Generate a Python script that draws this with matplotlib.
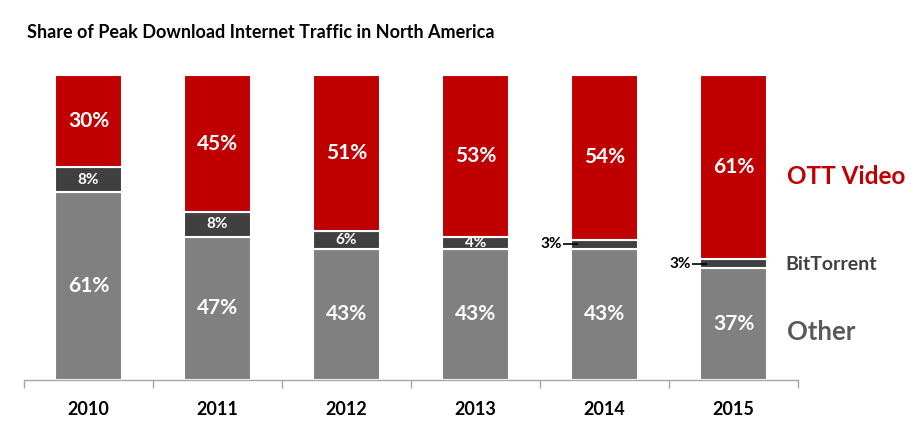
import matplotlib
matplotlib.use("Agg")
import matplotlib.pyplot as plt
import numpy as np

years = ["2010", "2011", "2012", "2013", "2014", "2015"]
other = [61, 47, 43, 43, 43, 37]
bittorrent = [8, 8, 6, 4, 3, 3]
ott_video = [30, 45, 51, 53, 54, 61]

RED = "#C00000"
DARK = "#404040"
GRAY = "#808080"

plt.rcParams['font.family'] = ['Lato', 'DejaVu Sans']

fig = plt.figure(figsize=(9.22, 4.28), dpi=100)
ax = fig.add_axes([0.026, 0.112, 0.8395, 0.713])

o = np.array(other, float)
b = np.array(bittorrent, float)
v = np.array(ott_video, float)
tot = o + b + v
o_n, b_n, v_n = o / tot * 100, b / tot * 100, v / tot * 100
x = np.arange(len(years))
w = 0.52

ax.bar(x, o_n, w, color=GRAY, edgecolor="white", linewidth=1.5)
ax.bar(x, b_n, w, bottom=o_n, color=DARK, edgecolor="white", linewidth=1.5)
ax.bar(x, v_n, w, bottom=o_n + b_n, color=RED, edgecolor="white", linewidth=1.5)

for i in range(len(years)):
    ax.text(x[i], o_n[i] / 2, f"{other[i]}%", ha="center", va="center",
            color="white", fontsize=15, fontweight="bold")
    ax.text(x[i], o_n[i] + b_n[i] + v_n[i] / 2, f"{ott_video[i]}%", ha="center",
            va="center", color="white", fontsize=15, fontweight="bold")
    ymid = o_n[i] + b_n[i] / 2
    if bittorrent[i] >= 4:
        ax.text(x[i], ymid, f"{bittorrent[i]}%", ha="center", va="center",
                color="white", fontsize=11, fontweight="bold")
    else:
        x0 = x[i] - w / 2
        ax.plot([x0 - 0.065, x0 + 0.055], [ymid, ymid], color="black", lw=1.2,
                solid_capstyle="butt", zorder=5)
        ax.text(x0 - 0.07, ymid, f"{bittorrent[i]}%", ha="right", va="center",
                color="black", fontsize=11, fontweight="bold")

ax.set_xlim(-0.5, len(years) - 0.5)
ax.set_ylim(0, 100)
ax.set_yticks([])
for s in ["top", "right", "left"]:
    ax.spines[s].set_visible(False)
ax.spines["bottom"].set_color("#A6A6A6")
ax.spines["bottom"].set_linewidth(1.0)
ax.set_xticks(x)
ax.set_xticklabels(years, fontsize=13, fontweight="bold")
ax.tick_params(axis="x", which="major", length=0, pad=15)
ax.set_xticks(np.arange(-0.5, len(years), 1.0), minor=True)
ax.tick_params(axis="x", which="minor", length=6, color="#A6A6A6", width=1.0)

fig.text(27 / 922, 1 - 33 / 428, "Share of Peak Download Internet Traffic in North America",
         fontsize=13, fontweight="bold", va="center", ha="left", color="black")

fig.text(787 / 922, 1 - 176 / 428, "OTT Video", color=RED, fontsize=17.5,
         fontweight="bold", va="center", ha="left")
fig.text(785 / 922, 1 - 264 / 428, "BitTorrent", color=DARK, fontsize=14,
         fontweight="bold", va="center", ha="left")
fig.text(787 / 922, 1 - 332 / 428, "Other", color="#595959", fontsize=18.5,
         fontweight="bold", va="center", ha="left")

fig.savefig("out.png", dpi=100)
